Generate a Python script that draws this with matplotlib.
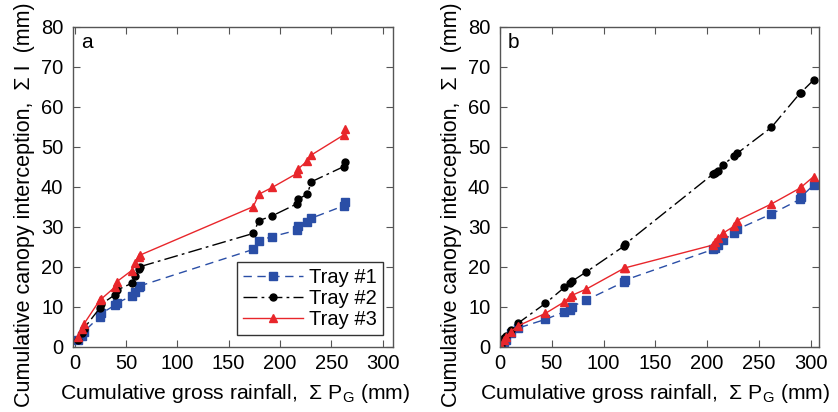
import matplotlib
matplotlib.use("Agg")
import matplotlib.pyplot as plt

plt.rcParams["font.family"] = ["Liberation Sans", "DejaVu Sans"]
plt.rcParams["mathtext.fontset"] = "custom"
plt.rcParams["mathtext.rm"] = "Liberation Sans"

# panel a: cumulative gross rainfall (mm) and interception per tray
rain_a = [3.6, 7, 9, 24.5, 26, 39, 41, 55.5, 58.8, 63, 64, 174, 179.5, 192.5,
          216.5, 218, 226.5, 230.5, 262, 263]
tray1_a = [1.7, 2.8, 3.8, 7.6, 8.4, 10.4, 11.0, 12.7, 13.8, 14.9, 15.3, 24.4,
           26.6, 27.6, 29.2, 30.3, 31.3, 32.2, 35.3, 36.3]
tray2_a = [1.7, 3.4, 4.6, 9.7, 10.7, 13.0, 14.2, 15.9, 17.7, 19.4, 20.1, 28.4,
           31.6, 32.8, 35.8, 37.0, 38.2, 41.3, 45.1, 46.3]
tray3_a = [2.4, 4.5, 5.7, 11.7, 12.0, 14.9, 16.3, 19.1, 20.9, 22.5, 23.0, 35.1,
           38.2, 39.9, 43.4, 44.6, 46.5, 48.0, 53.0, 54.4]

# panel b
rain_b = [1, 4.2, 5.5, 10.3, 17.1, 43.8, 62.2, 67.7, 69.3, 83.5, 119.9, 121,
          205.7, 208, 210.2, 215, 226.3, 228.9, 262, 289.5, 290.5, 302.8]
tray1_b = [0.0, 1.3, 1.8, 3.4, 4.7, 6.9, 8.8, 9.3, 10.1, 11.75, 16.3, 16.75,
           24.4, 24.7, 25.5, 26.75, 28.4, 29.4, 33.25, 36.9, 37.5, 40.5]
tray2_b = [0.5, 2.2, 2.8, 4.25, 5.9, 10.9, 14.9, 15.9, 16.4, 18.8, 25.25, 25.75,
           43.25, 43.6, 44.1, 45.5, 47.75, 48.4, 54.9, 63.4, 63.6, 66.75]
tray3_b = [0.2, 1.75, 2.4, 3.8, 5.25, 8.4, 11.3, 12.6, 12.9, 14.5, 19.7, 19.8,
           25.5, 26.2, 27.2, 28.4, 30.25, 31.6, 35.75, 39.7, 39.9, 42.6]

labels = ["Tray #1", "Tray #2", "Tray #3"]
BLUE = "#2a4ea6"
RED = "#e8262b"
SPINE = "#555555"


def draw_panel(ax, rain, trays, tag, xlab_x):
    styles = [
        dict(color=BLUE, marker="s", ms=5.5, dashes=(6, 4)),
        dict(color="black", marker="o", ms=5, dashes=(10, 3, 2, 3)),
        dict(color=RED, marker="^", ms=6, linestyle="-"),
    ]
    for vals, lab, st in zip(trays, labels, styles):
        ax.plot(rain, vals, lw=1, label=lab, **st)
    ax.set_xlim(-1.5, 310)
    ax.set_ylim(0, 80)
    ax.set_xticks(range(0, 301, 50))
    ax.set_yticks(range(0, 81, 10))
    ax.tick_params(direction="in", top=True, right=True, length=5,
                   labelsize=14.5, color=SPINE)
    ax.tick_params(axis="y", pad=7)
    ax.tick_params(axis="x", pad=5)
    for sp in ax.spines.values():
        sp.set_color(SPINE)
        sp.set_linewidth(1)
    ax.set_xlabel(r"Cumulative gross rainfall,  Σ P$_\mathregular{G}$ (mm)",
                  fontsize=15.2)
    ax.set_ylabel("Cumulative canopy interception,  Σ I  (mm)",
                  fontsize=15.5)
    ax.xaxis.set_label_coords(xlab_x, -0.109)
    ax.yaxis.set_label_coords(-0.119, 0.444)
    ax.text(0.025, 0.98, tag, transform=ax.transAxes, fontsize=15,
            va="top", ha="left")


fig = plt.figure(figsize=(8.38, 4.12), dpi=100)
ax_a = fig.add_axes([73 / 838, 65 / 412, 320 / 838, 320 / 412])
ax_b = fig.add_axes([500 / 838, 65 / 412, 319 / 838, 320 / 412])

draw_panel(ax_a, rain_a, [tray1_a, tray2_a, tray3_a], "a", 0.506)
draw_panel(ax_b, rain_b, [tray1_b, tray2_b, tray3_b], "b", 0.486)
ax_b.set_xlim(0, 308)

leg = ax_a.legend(loc="lower right", bbox_to_anchor=(0.969, 0.0375),
                  borderaxespad=0, fontsize=14.5, handlelength=3.0,
                  fancybox=False, framealpha=1, edgecolor="#333333",
                  labelspacing=0.1, borderpad=0.3, handletextpad=0.3)
leg.get_frame().set_linewidth(1)

fig.savefig("out.png", dpi=100)
